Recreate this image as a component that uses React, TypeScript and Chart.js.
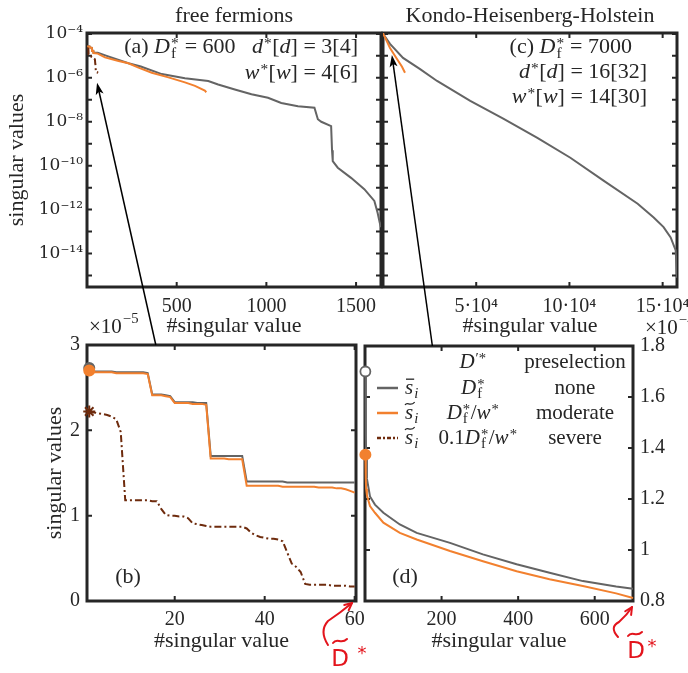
import React, { useEffect, useRef } from 'react';
import { Chart, registerables } from 'chart.js';

Chart.register(...registerables);

const FONT = '"Liberation Serif", "DejaVu Serif", serif';
const INK = '#262626';
const GRAY = '#646464';
const ORANGE = '#F2802E';
const BROWN = '#6E2B0D';
const RED = '#E3141C';

// ---------- panel (b): first 60 singular values, units of 1e-5 ----------
const bIndex = [1, 2, 3, 4, 5, 6, 7, 8, 9, 10, 11, 12, 13, 14, 15, 16, 17, 18, 19, 20,
  21, 22, 23, 24, 25, 26, 27, 28, 29, 30, 31, 32, 33, 34, 35, 36, 37, 38, 39, 40,
  41, 42, 43, 44, 45, 46, 47, 48, 49, 50, 51, 52, 53, 54, 55, 56, 57, 58, 59, 60];
const bNone = [2.73, 2.69, 2.69, 2.69, 2.69, 2.69, 2.68, 2.68, 2.68, 2.68, 2.68, 2.68, 2.68, 2.67, 2.42, 2.42, 2.42, 2.41, 2.40, 2.33,
  2.33, 2.33, 2.33, 2.33, 2.32, 2.32, 2.32, 1.70, 1.70, 1.70, 1.70, 1.70, 1.70, 1.70, 1.70, 1.40, 1.40, 1.40, 1.40, 1.40,
  1.40, 1.40, 1.40, 1.40, 1.39, 1.39, 1.39, 1.39, 1.39, 1.39, 1.39, 1.39, 1.39, 1.39, 1.39, 1.39, 1.39, 1.39, 1.39, 1.39];
const bModerate = [2.70, 2.68, 2.68, 2.68, 2.68, 2.68, 2.67, 2.67, 2.67, 2.67, 2.67, 2.67, 2.67, 2.66, 2.41, 2.41, 2.41, 2.40, 2.39, 2.32,
  2.32, 2.32, 2.32, 2.31, 2.31, 2.31, 2.30, 1.67, 1.67, 1.67, 1.67, 1.66, 1.66, 1.66, 1.66, 1.35, 1.35, 1.35, 1.35, 1.35,
  1.35, 1.35, 1.35, 1.34, 1.34, 1.34, 1.34, 1.34, 1.34, 1.34, 1.34, 1.33, 1.33, 1.33, 1.33, 1.32, 1.32, 1.31, 1.29, 1.27];
const bSevere = [2.22, 2.21, 2.20, 2.19, 2.18, 2.16, 2.13, 1.98, 1.18, 1.18, 1.18, 1.18, 1.18, 1.18, 1.17, 1.17, 1.08, 1.01, 1.00, 1.00,
  0.99, 0.99, 0.97, 0.91, 0.90, 0.89, 0.88, 0.87, 0.87, 0.87, 0.87, 0.87, 0.87, 0.87, 0.87, 0.85, 0.80, 0.77, 0.75, 0.74,
  0.73, 0.73, 0.72, 0.70, 0.57, 0.44, 0.40, 0.34, 0.20, 0.19, 0.19, 0.19, 0.19, 0.19, 0.18, 0.18, 0.18, 0.18, 0.17, 0.17];
const bXTicks = [20, 40, 60];
const bYTicks = [0, 1, 2, 3];

// ---------- panel (a): free fermions, full spectra ----------
const aNoneIndex = [1, 14, 15, 27, 28, 35, 36, 60, 110, 160, 231, 300, 417, 546, 676, 731, 824, 917, 1009, 1083,
  1176, 1268, 1287, 1306, 1361, 1366, 1370, 1398, 1472, 1546, 1602, 1620, 1632, 1639];
const aNoneValue = [2.73e-5, 2.67e-5, 2.42e-5, 2.31e-5, 1.70e-5, 1.70e-5, 1.40e-5, 1.39e-5, 1.0e-5, 7.2e-6, 4.6e-6, 3.3e-6, 1.48e-6, 9.5e-7, 7.2e-7, 5.0e-7, 2.95e-7, 1.78e-7, 1.23e-7, 7.2e-8,
  5.1e-8, 4.4e-8, 1.3e-8, 1.0e-8, 6.3e-9, 5.0e-10, 1.6e-10, 8.1e-11, 2.8e-11, 8.5e-12, 2.5e-12, 7.2e-13, 2.5e-13, 1.6e-13];
const aModIndex = [1, 14, 15, 27, 28, 35, 36, 60, 100, 176, 231, 287, 361, 454, 546, 602, 657, 665];
const aModValue = [2.70e-5, 2.66e-5, 2.41e-5, 2.30e-5, 1.66e-5, 1.66e-5, 1.35e-5, 1.27e-5, 8.5e-6, 5.8e-6, 4.6e-6, 2.9e-6, 1.7e-6, 1.05e-6, 6.2e-7, 4.3e-7, 2.6e-7, 2.2e-7];
const aXTicks = [500, 1000, 1500];
const logTicks = [1e-4, 1e-5, 1e-6, 1e-7, 1e-8, 1e-9, 1e-10, 1e-11, 1e-12, 1e-13, 1e-14, 1e-15];

// ---------- panel (c): Kondo-Heisenberg-Holstein, full spectra ----------
const cNoneIndex = [1, 5, 50, 300, 700, 3763, 10750, 19900, 29000, 46800, 64500, 82800, 100500, 118300, 136600, 145200, 150500, 154300, 157000, 157700];
const cNoneValue = [1.70e-4, 1.28e-4, 1.15e-4, 9.9e-5, 8.5e-5, 3.5e-5, 8.1e-6, 2.5e-6, 7.2e-7, 8.9e-8, 1.38e-8, 1.86e-9, 2.3e-10, 2.1e-11, 1.86e-12, 4.4e-13, 1.6e-13, 5.4e-14, 1.4e-14, 8e-16];
const cModIndex = [1, 5, 50, 300, 700, 3760, 7500, 10200, 11800];
const cModValue = [1.37e-4, 1.22e-4, 1.10e-4, 9.6e-5, 8.1e-5, 2.3e-5, 7.2e-6, 3.2e-6, 1.7e-6];
const cXTicks = [50000, 100000, 150000];

// ---------- panel (d): first 700 singular values, units of 1e-4 ----------
const dIndex = [1, 2, 3, 5, 13, 26, 48, 91, 135, 222, 308, 396, 482, 569, 656, 700];
const dNone = [1.70, 1.45, 1.36, 1.28, 1.21, 1.178, 1.146, 1.10, 1.067, 1.028, 0.983, 0.944, 0.911, 0.878, 0.857, 0.848];
const dModerate = [1.374, 1.28, 1.24, 1.215, 1.172, 1.146, 1.107, 1.067, 1.041, 0.996, 0.956, 0.917, 0.885, 0.859, 0.83, 0.812];
const dXTicks = [200, 400, 600];
const dYTicks = [0.8, 1, 1.2, 1.4, 1.6, 1.8];

const SEVERE_DASH = [7, 3, 2, 3];
const SUP: Record<string, string> = { '-': '⁻', '0': '⁰', '1': '¹', '2': '²', '3': '³', '4': '⁴', '5': '⁵', '6': '⁶', '7': '⁷', '8': '⁸', '9': '⁹' };
const sup = (s: string) => s.split('').map((c) => SUP[c] || c).join('');

const tickFont = { family: FONT, size: 20 };
const logTickFont = { family: '"DejaVu Serif", serif', size: 17 };
const titleFont = { family: FONT, size: 22 };

type Seg = { t?: string; i?: boolean; sup?: string; sub?: string; subI?: boolean; over?: 'bar' | 'tilde' };
const f = (size: number, it?: boolean) => `${it ? 'italic ' : ''}${size}px ${FONT}`;

function segW(ctx: CanvasRenderingContext2D, s: Seg, size: number) {
  let w = 0;
  if (s.t) { ctx.font = f(size, s.i); w = ctx.measureText(s.t).width; }
  let ws = 0;
  if (s.sup) { ctx.font = f(size * 0.7); ws = Math.max(ws, ctx.measureText(s.sup).width); }
  if (s.sub) { ctx.font = f(size * 0.7, s.subI); ws = Math.max(ws, ctx.measureText(s.sub).width); }
  return w + ws + (ws ? 1.5 : 0);
}

function drawRich(ctx: CanvasRenderingContext2D, segs: Seg[], x: number, y: number, align: 'left' | 'right' | 'center', size = 22, color = INK) {
  const total = segs.reduce((a, s) => a + segW(ctx, s, size), 0);
  let cx = align === 'left' ? x : align === 'right' ? x - total : x - total / 2;
  ctx.save();
  ctx.fillStyle = color;
  ctx.strokeStyle = color;
  ctx.textBaseline = 'middle';
  ctx.textAlign = 'left';
  for (const s of segs) {
    let w = 0;
    if (s.t) {
      ctx.font = f(size, s.i);
      ctx.fillText(s.t, cx, y);
      w = ctx.measureText(s.t).width;
      if (s.over === 'bar') {
        ctx.lineWidth = 1.3;
        ctx.beginPath(); ctx.moveTo(cx + 1, y - size * 0.42); ctx.lineTo(cx + w + 1, y - size * 0.42); ctx.stroke();
      } else if (s.over === 'tilde') {
        ctx.lineWidth = 1.2;
        const yy = y - size * 0.45;
        ctx.beginPath();
        ctx.moveTo(cx, yy + 1.5);
        ctx.bezierCurveTo(cx + w * 0.3, yy - 3, cx + w * 0.6, yy + 4, cx + w + 1.5, yy - 1.5);
        ctx.stroke();
      }
    }
    let ws = 0;
    if (s.sup) {
      ctx.font = f(size * 0.7);
      const off = s.sup.includes('*') ? 0.14 : 0.36;
      ctx.fillText(s.sup, cx + w + 1, y - size * off);
      ws = Math.max(ws, ctx.measureText(s.sup).width);
    }
    if (s.sub) { ctx.font = f(size * 0.7, s.subI); ctx.fillText(s.sub, cx + w + 1, y + size * 0.3); ws = Math.max(ws, ctx.measureText(s.sub).width); }
    cx += w + ws + (ws ? 1.5 : 0);
  }
  ctx.restore();
}

function zeroPad(s: any) { s.paddingLeft = 0; s.paddingRight = 0; s.paddingTop = 0; s.paddingBottom = 0; }

function xAxis(min: number, max: number, ticks: number[], fmt: (v: number) => string, height: number, pad: number) {
  return {
    type: 'linear', position: 'bottom', min, max,
    grid: { display: false, drawTicks: false }, border: { display: false },
    afterBuildTicks: (s: any) => { s.ticks = ticks.map((v) => ({ value: v })); },
    afterFit: (s: any) => { s.height = height; zeroPad(s); },
    ticks: { autoSkip: false, maxRotation: 0, minRotation: 0, padding: pad, font: tickFont, color: INK, callback: (v: any) => fmt(Number(v)) },
    title: { display: true, text: '#singular value', font: titleFont, color: INK, padding: { top: 0, bottom: 0 } },
  };
}

function yLin(min: number, max: number, ticks: number[], fmt: (v: number) => string, width: number, position: string, title: boolean) {
  return {
    type: 'linear', position, min, max,
    grid: { display: false, drawTicks: false }, border: { display: false },
    afterBuildTicks: (s: any) => { s.ticks = ticks.map((v) => ({ value: v })); },
    afterFit: (s: any) => { s.width = width; zeroPad(s); },
    ticks: { autoSkip: false, padding: 7, font: tickFont, color: INK, callback: (v: any) => fmt(Number(v)) },
    title: title
      ? { display: true, text: 'singular values', font: titleFont, color: INK, padding: { top: 12, bottom: 0 } }
      : { display: false },
  };
}

function logLabel(v: number) {
  const e = Math.round(Math.log10(v));
  return e % 2 === 0 ? '10' + sup(String(e)) : '';
}

function ds(xs: number[], ys: number[], k: number, color: string, extra: any = {}) {
  return {
    data: xs.map((x, i) => ({ x, y: ys[i] * k })),
    borderColor: color, backgroundColor: color, borderWidth: 2,
    pointRadius: 0, pointHoverRadius: 0, tension: 0, fill: false,
    ...extra,
  };
}

const firstOnly = (r: number) => (c: any) => (c.dataIndex === 0 ? r : 0);

function framePlugin(xTicks: number[], yTicks: number[]) {
  return {
    id: 'frame',
    beforeDatasetsDraw(chart: any) {
      const { ctx, chartArea: { left, right, top, bottom } } = chart;
      const sx = chart.scales.x, sy = chart.scales.y;
      const L = 5;
      ctx.save();
      ctx.strokeStyle = INK;
      ctx.lineWidth = 2;
      ctx.beginPath();
      xTicks.forEach((v) => {
        const p = sx.getPixelForValue(v);
        ctx.moveTo(p, bottom); ctx.lineTo(p, bottom - L);
        ctx.moveTo(p, top); ctx.lineTo(p, top + L);
      });
      yTicks.forEach((v) => {
        const p = sy.getPixelForValue(v);
        ctx.moveTo(left, p); ctx.lineTo(left + L, p);
        ctx.moveTo(right, p); ctx.lineTo(right - L, p);
      });
      ctx.stroke();
      ctx.lineWidth = 3;
      ctx.strokeRect(left, top, right - left, bottom - top);
      ctx.restore();
    },
  };
}

function textPlugin(draw: (ctx: CanvasRenderingContext2D, ca: any, chart: any) => void) {
  return { id: 'texts', afterDraw(chart: any) { draw(chart.ctx, chart.chartArea, chart); } };
}

function arrow(ctx: CanvasRenderingContext2D, x0: number, y0: number, x1: number, y1: number) {
  const a = Math.atan2(y1 - y0, x1 - x0);
  const hl = 12, hw = 4;
  const c = Math.cos(a), s = Math.sin(a);
  const bx = x1 - hl * c, by = y1 - hl * s;
  ctx.save();
  ctx.strokeStyle = '#000'; ctx.fillStyle = '#000'; ctx.lineWidth = 1.5;
  ctx.beginPath(); ctx.moveTo(x0, y0); ctx.lineTo(x1 - 8 * c, y1 - 8 * s); ctx.stroke();
  ctx.beginPath();
  ctx.moveTo(x1, y1);
  ctx.lineTo(bx - hw * s, by + hw * c);
  ctx.lineTo(x1 - 0.75 * hl * c, y1 - 0.75 * hl * s);
  ctx.lineTo(bx + hw * s, by - hw * c);
  ctx.closePath(); ctx.fill();
  ctx.restore();
}

function redMark(ctx: CanvasRenderingContext2D, tx: number, ty: number, pts: number[][], dC: number[], tC: number[], sC: number[]) {
  ctx.save();
  ctx.strokeStyle = RED; ctx.fillStyle = RED; ctx.lineWidth = 2; ctx.lineCap = 'round'; ctx.lineJoin = 'round';
  ctx.beginPath();
  ctx.moveTo(tx + pts[0][0], ty + pts[0][1]);
  ctx.quadraticCurveTo(tx + pts[1][0], ty + pts[1][1], tx + pts[2][0], ty + pts[2][1]);
  ctx.quadraticCurveTo(tx + pts[3][0], ty + pts[3][1], tx, ty);
  ctx.stroke();
  const a = Math.atan2(-pts[3][1], -pts[3][0]);
  ctx.beginPath();
  ctx.moveTo(tx - 8 * Math.cos(a - 0.45), ty - 8 * Math.sin(a - 0.45));
  ctx.lineTo(tx, ty);
  ctx.lineTo(tx - 8 * Math.cos(a + 0.45), ty - 8 * Math.sin(a + 0.45));
  ctx.stroke();
  ctx.font = '23px "DejaVu Sans", sans-serif';
  ctx.textAlign = 'center'; ctx.textBaseline = 'middle';
  ctx.fillText('D', tx + dC[0], ty + dC[1]);
  ctx.beginPath();
  ctx.moveTo(tx + tC[0] - 7, ty + tC[1] + 2);
  ctx.bezierCurveTo(tx + tC[0] - 3, ty + tC[1] - 4, tx + tC[0] + 1, ty + tC[1] + 4, tx + tC[0] + 7, ty + tC[1] - 2);
  ctx.stroke();
  ctx.font = '18px "DejaVu Sans", sans-serif';
  ctx.fillText('*', tx + sC[0], ty + sC[1]);
  ctx.restore();
}

function makeChart(canvas: HTMLCanvasElement, datasets: any[], scales: any, padding: any, plugins: any[]) {
  return new Chart(canvas, {
    type: 'line',
    data: { datasets },
    options: {
      responsive: false, maintainAspectRatio: false, animation: false, devicePixelRatio: 1, events: [],
      layout: { padding },
      plugins: { legend: { display: false }, tooltip: { enabled: false }, title: { display: false } },
      scales,
    } as any,
    plugins,
  } as any);
}

export default function App() {
  const refA = useRef<HTMLCanvasElement>(null);
  const refC = useRef<HTMLCanvasElement>(null);
  const refB = useRef<HTMLCanvasElement>(null);
  const refD = useRef<HTMLCanvasElement>(null);

  useEffect(() => {
    const logY = {
      type: 'logarithmic', position: 'left', min: 3e-16, max: 1.1e-4,
      grid: { display: false, drawTicks: false }, border: { display: false },
      afterBuildTicks: (s: any) => { s.ticks = logTicks.map((v) => ({ value: v })); },
      afterFit: (s: any) => { s.width = 87; zeroPad(s); },
      ticks: { autoSkip: false, padding: 4, font: logTickFont, color: INK, callback: (v: any) => logLabel(Number(v)) },
      title: { display: true, text: 'singular values', font: titleFont, color: INK, padding: { top: 4, bottom: 0 } },
    };

    const chartA = makeChart(refA.current!, [
      ds(bIndex, bSevere, 1e-5, BROWN, { borderDash: SEVERE_DASH }),
      ds(aModIndex, aModValue, 1, ORANGE),
      ds(aNoneIndex, aNoneValue, 1, GRAY),
    ], {
      x: xAxis(0, 1639, aXTicks, (v) => String(v), 52, 8),
      y: logY,
    }, { left: 0, right: 307, top: 33, bottom: 334 }, [
      framePlugin(aXTicks, logTicks),
      textPlugin((ctx, ca) => {
        ctx.save(); ctx.fillStyle = INK; ctx.font = f(22); ctx.textAlign = 'center'; ctx.textBaseline = 'middle';
        ctx.fillText('free fermions', (ca.left + ca.right) / 2, ca.top - 17);
        ctx.restore();
        drawRich(ctx, [{ t: '(a) ' }, { t: 'D', i: true, sup: '*', sub: 'f' }, { t: ' = 600   ' }, { t: 'd', i: true, sup: '*' }, { t: '[' }, { t: 'd', i: true }, { t: '] = 3[4]' }], ca.right - 23, ca.top + 14, 'right');
        drawRich(ctx, [{ t: 'w', i: true, sup: '*' }, { t: '[' }, { t: 'w', i: true }, { t: '] = 4[6]' }], ca.right - 23, ca.top + 40, 'right');
      }),
    ]);

    const chartC = makeChart(refC.current!, [
      ds(cModIndex, cModValue, 1, ORANGE),
      ds(cNoneIndex, cNoneValue, 1, GRAY),
    ], {
      x: xAxis(0, 157700, cXTicks, (v) => `${v / 10000}·10${sup('4')}`, 52, 8),
      y: {
        type: 'logarithmic', display: false, min: 3e-16, max: 1.1e-4,
        afterFit: (s: any) => { s.width = 0; zeroPad(s); },
      },
    }, { left: 383, right: 11, top: 33, bottom: 334 }, [
      framePlugin(cXTicks, logTicks),
      textPlugin((ctx, ca) => {
        ctx.save(); ctx.fillStyle = INK; ctx.font = f(22); ctx.textAlign = 'center'; ctx.textBaseline = 'middle';
        ctx.fillText('Kondo-Heisenberg-Holstein', (ca.left + ca.right) / 2, ca.top - 17);
        ctx.restore();
        drawRich(ctx, [{ t: '(c) ' }, { t: 'D', i: true, sup: '*', sub: 'f' }, { t: ' = 7000' }], ca.right - 45, ca.top + 14, 'right');
        drawRich(ctx, [{ t: 'd', i: true, sup: '*' }, { t: '[' }, { t: 'd', i: true }, { t: '] = 16[32]' }], ca.right - 30, ca.top + 39, 'right');
        drawRich(ctx, [{ t: 'w', i: true, sup: '*' }, { t: '[' }, { t: 'w', i: true }, { t: '] = 14[30]' }], ca.right - 30, ca.top + 64, 'right');
      }),
    ]);

    const chartB = makeChart(refB.current!, [
      ds(bIndex, bSevere, 1, BROWN, { borderDash: SEVERE_DASH, pointRadius: firstOnly(6), pointStyle: 'star', pointBorderWidth: 2, clip: false }),
      ds(bIndex, bModerate, 1, ORANGE, { pointRadius: firstOnly(5), clip: false }),
      ds(bIndex, bNone, 1, GRAY, { pointRadius: firstOnly(5), clip: false }),
    ], {
      x: xAxis(0.5, 60.3, bXTicks, (v) => String(v), 53, 7),
      y: yLin(0, 3, bYTicks, (v) => String(v), 57, 'left', true),
    }, { left: 30, right: 332, top: 345, bottom: 19 }, [
      framePlugin(bXTicks, bYTicks),
      textPlugin((ctx, ca) => {
        drawRich(ctx, [{ t: '(b)' }], ca.left + 41, ca.bottom - 24, 'center');
        drawRich(ctx, [{ t: '×10' }, { sup: '−5' }], ca.left + 2, ca.top - 18, 'left', 21);
      }),
    ]);

    const chartD = makeChart(refD.current!, [
      ds(dIndex, dModerate, 1, ORANGE, { pointRadius: firstOnly(5), clip: false }),
      ds(dIndex, dNone, 1, GRAY, { pointRadius: firstOnly(5), pointBackgroundColor: '#ffffff', pointBorderColor: GRAY, pointBorderWidth: 1.8, clip: false }),
    ], {
      x: xAxis(0, 700, dXTicks, (v) => String(v), 53, 7),
      y: yLin(0.8, 1.8, dYTicks, (v) => String(Number(v.toFixed(1))), 55, 'right', false),
    }, { left: 365, right: 0, top: 346, bottom: 19 }, [
      framePlugin(dXTicks, dYTicks),
      textPlugin((ctx, ca, chart) => {
        drawRich(ctx, [{ t: '(d)' }], ca.left + 40, ca.bottom - 24, 'center');
        drawRich(ctx, [{ t: '×10' }, { sup: '−4' }], ca.right + 12, ca.top - 18, 'left', 21);
        // legend table
        const L = ca.left, T = ca.top;
        drawRich(ctx, [{ t: 'D', i: true, sup: '′*' }], L + 108, T + 16, 'center', 21);
        drawRich(ctx, [{ t: 'preselection' }], L + 210, T + 16, 'center', 21);
        const rows = [
          { color: GRAY, dash: [] as number[], sym: 'bar' as const, col2: [{ t: 'D', i: true, sup: '*', sub: 'f' }] as Seg[], col3: 'none' },
          { color: ORANGE, dash: [] as number[], sym: 'tilde' as const, col2: [{ t: 'D', i: true, sup: '*', sub: 'f' }, { t: '/' }, { t: 'w', i: true, sup: '*' }] as Seg[], col3: 'moderate' },
          { color: BROWN, dash: [4, 2, 2, 2], sym: 'tilde' as const, col2: [{ t: '0.1' }, { t: 'D', i: true, sup: '*', sub: 'f' }, { t: '/' }, { t: 'w', i: true, sup: '*' }] as Seg[], col3: 'severe' },
        ];
        rows.forEach((r, k) => {
          const y = T + 42 + 25 * k;
          ctx.save();
          ctx.strokeStyle = r.color; ctx.lineWidth = 2.5; ctx.setLineDash(r.dash);
          ctx.beginPath(); ctx.moveTo(L + 12, y); ctx.lineTo(L + 33, y); ctx.stroke();
          ctx.restore();
          drawRich(ctx, [{ t: 's', i: true, over: r.sym, sub: 'i', subI: true }], L + 40, y, 'left', 21);
          drawRich(ctx, r.col2, L + (k === 2 ? 113 : 108), y, 'center', 21);
          drawRich(ctx, [{ t: r.col3 }], L + 210, y, 'center', 21);
        });
        // connecting arrows
        const ax = chartA.scales.x, ay = chartA.scales.y;
        const bx = chartB.scales.x, by = chartB.scales.y;
        const cx = chartC.scales.x, cy = chartC.scales.y;
        const dx = chart.scales.x, dy = chart.scales.y;
        arrow(ctx, bx.getPixelForValue(15.8), by.getPixelForValue(3), ax.getPixelForValue(56), ay.getPixelForValue(6e-7));
        arrow(ctx, dx.getPixelForValue(176), dy.getPixelForValue(1.8), cx.getPixelForValue(4775), cy.getPixelForValue(1.1e-5));
        // red hand-written marks
        const bca = chartB.chartArea;
        redMark(ctx, bca.right - 4, bca.bottom + 2, [[-24, 42], [-33, 28], [-24, 18], [-12, 10]], [-12, 57], [-12, 38], [10, 51]);
        redMark(ctx, ca.right - 1, ca.bottom + 6, [[-14, 30], [-23, 20], [-13, 15], [-5, 8]], [4, 45], [3, 27], [20, 40]);
      }),
    ]);

    return () => { chartD.destroy(); chartB.destroy(); chartC.destroy(); chartA.destroy(); };
  }, []);

  const st: React.CSSProperties = { position: 'absolute', left: 0, top: 0 };
  return (
    <div style={{ position: 'fixed', left: 0, top: 0, width: 688, height: 673, background: '#ffffff', overflow: 'hidden' }}>
      <canvas ref={refA} width={688} height={673} style={st} />
      <canvas ref={refC} width={688} height={673} style={st} />
      <canvas ref={refB} width={688} height={673} style={st} />
      <canvas ref={refD} width={688} height={673} style={st} />
    </div>
  );
}
